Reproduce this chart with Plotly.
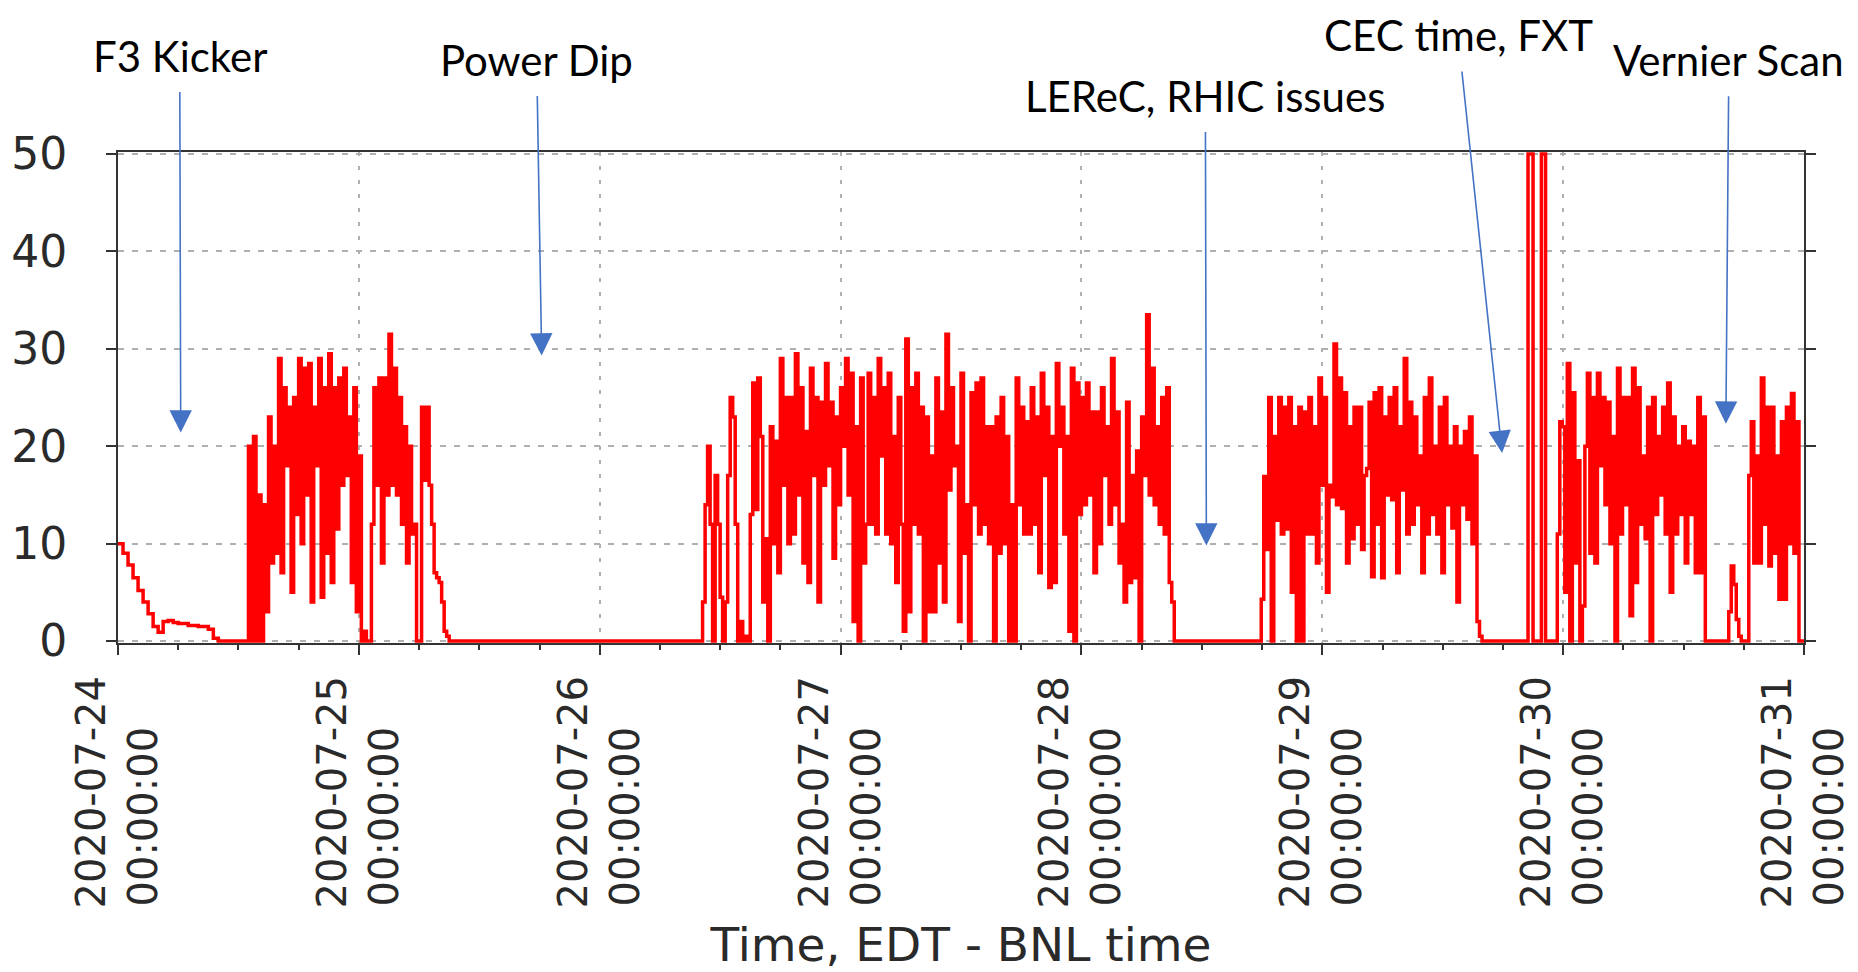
import pandas as pd
import plotly.graph_objects as go

# ---------------- data ----------------
day_ticks = ["2020-07-24", "2020-07-25", "2020-07-26", "2020-07-27",
             "2020-07-28", "2020-07-29", "2020-07-30", "2020-07-31"]

decay_start = "2020-07-24 00:00"
decay_step_min = 30
decay_vals = [10, 9, 7.8, 6.5, 5.2, 4, 2.8, 1.5, 0.9, 2.0, 2.1, 1.9, 1.8, 1.8,
              1.6, 1.6, 1.5, 1.5, 1.2, 0.3, 0]

block_a_start = "2020-07-24 13:00"
block_a_vals = [20, 0, 21, 0, 15, 0, 14, 3, 23, 8, 20, 9, 29, 7, 26, 18,
                24, 5, 25, 13, 29, 10, 28, 15, 28.5, 4, 24, 18, 29, 4.5, 26, 9,
                29.5, 6, 26, 11.5, 27, 16, 28, 17, 23, 6, 26, 3, 19, 0, 1, 0,
                0, 12, 26, 16, 27, 8, 27, 15, 31.5, 16, 28, 15, 25, 12, 22, 8,
                20, 11, 12, 0, 0, 24, 16.5, 24, 16, 12, 7, 6.5, 6, 4, 1, 0.5, 0]

block_b_start = "2020-07-26 10:15"
block_b_vals = [4, 14, 20, 12, 0, 17, 12, 4.5, 0, 4, 17, 25, 23, 12, 0, 2,
                0, 0.5, 0, 13, 26.5, 13.5, 27, 21, 4, 10.5, 0, 22, 10, 20.5,
                7, 29, 16, 25, 10, 25, 11, 29.5, 15, 26, 8, 21.5, 6, 28, 17, 25,
                4, 24.5, 16, 28.5, 18, 24.5, 8.5, 23, 14, 26, 20, 29, 15, 27.5,
                2, 22, 0, 27, 8, 12, 27.5, 12, 25, 11, 29, 19, 26, 11, 27.5, 10,
                21, 6, 25, 12, 1, 31, 3, 26, 12, 27.5, 11, 24, 0, 23, 3, 19,
                3, 27, 8, 23.5, 4, 31.5, 15.5, 26, 18, 20, 2, 27.5, 9, 14, 0, 25.5,
                14, 26.5, 11, 27, 12, 22, 10, 22, 0, 23, 9, 25, 10, 21, 0, 14,
                0, 27, 14, 24, 11, 22.5, 11, 26, 12, 23, 7, 27.5, 17, 24, 5.5, 21,
                6, 28.5, 20, 24, 11, 21, 1, 28, 0, 26.5, 13, 25, 14, 26.5, 15, 23.5,
                7, 23.5, 10, 26, 17, 22, 12, 29, 14, 23.5, 8, 12, 4, 24.5, 6, 17,
                6.5, 19.5, 0, 23, 17, 33.5, 15, 28, 14, 22, 12, 25, 11, 26, 6, 4, 0]

block_c_start = "2020-07-28 17:55"
block_c_vals = [4.3, 16.9, 9.4, 25, 0, 21, 12.4, 25, 11, 24, 11.5, 25, 5, 22,
                0, 24, 0, 23.5, 11, 25, 11, 22, 8, 27, 16, 25, 5, 16, 14.8, 30.5,
                14, 27, 13.6, 25.5, 8, 22, 10.5, 24, 12, 24, 9.4, 17, 17.7, 24.5,
                6.6, 25.5, 12, 26, 6.5, 23, 15, 25, 14.5, 26, 7, 22, 15.5, 29,
                11, 24.5, 12, 23, 14, 19, 7, 25, 11, 27, 13, 20, 11, 24, 7, 25,
                14, 20, 11.6, 22, 4, 20, 14, 21.5, 12.5, 23, 10, 19, 2, 0.5, 0]

spike_times = ["2020-07-29 20:30", "2020-07-29 21:00",
               "2020-07-29 21:50", "2020-07-29 22:15"]
spike_vals = [50, 0, 50, 0]

block_d_start = "2020-07-29 23:25"
block_d_vals = [11, 22.5, 22, 5, 28.5, 0, 25.5, 8, 18.5, 0, 3.6, 20, 27.5, 9,
                25, 8, 27.5, 18, 25, 14, 24.5, 10, 21, 0, 28, 11, 25, 14, 25, 2.6,
                28, 6, 26, 12, 19, 10.5, 24, 0, 25, 13, 21, 15, 24, 11, 26.5, 5,
                23, 11, 20, 13, 22, 8, 20.5, 13, 20, 7, 25, 7, 23, 0]

block_e_start = "2020-07-30 16:30"
block_e_vals = [3, 7.7, 5.8, 2.2, 0.5, 0, 0, 0, 17, 22.5, 8, 19, 8, 27, 12, 24,
                7.7, 24, 9, 19, 4.3, 22.5, 4.3, 24, 10, 25.4, 9, 22.5, 0]

step_min = 15

annot_texts = ["F3 Kicker", "Power Dip", "LEReC, RHIC issues", "CEC time, FXT", "Vernier Scan"]
annot_tip_x = ["2020-07-24 06:15", "2020-07-25 18:13", "2020-07-28 12:27",
               "2020-07-29 17:55", "2020-07-30 16:13"]
annot_tip_y = [21.4, 29.3, 9.8, 19.3, 22.3]
annot_ax = [-1, -5, -1, -44, 3]
annot_ay = [-377, -296, -450, -418, -364]


# ---------------- build series ----------------
def seg(start, vals, minutes):
    t = pd.date_range(start=start, periods=len(vals), freq=f"{minutes}min")
    return list(t), list(vals)

xs, ys = [], []
for s, v, m in [(decay_start, decay_vals, decay_step_min),
                (block_a_start, block_a_vals, step_min),
                (block_b_start, block_b_vals, step_min),
                (block_c_start, block_c_vals, step_min)]:
    t, y = seg(s, v, m)
    xs += t
    ys += y
xs += list(pd.to_datetime(spike_times))
ys += spike_vals
for s, v in [(block_d_start, block_d_vals), (block_e_start, block_e_vals)]:
    t, y = seg(s, v, step_min)
    xs += t
    ys += y
xs.append(pd.Timestamp("2020-07-31 00:00"))
ys.append(0)

fig = go.Figure()
fig.add_trace(go.Scatter(x=xs, y=ys, mode="lines",
                         line=dict(color="#ff0000", width=3.5, shape="hv"),
                         showlegend=False, hoverinfo="skip"))

nb = "\u00a0"
tick_text = [f"{d}<br>00:00:00{nb*4}" for d in day_ticks]
minor_vals = list(pd.date_range("2020-07-24", "2020-07-31", freq="6h"))

fig.update_xaxes(
    range=["2020-07-24 00:00", "2020-07-31 00:00"],
    tickmode="array", tickvals=day_ticks, ticktext=tick_text,
    tickangle=-90,
    tickfont=dict(family="DejaVu Sans", size=40, color="#2a2a2a"),
    ticks="outside", ticklen=10, tickwidth=2, tickcolor="#333",
    ticklabelstandoff=5,
    minor=dict(tickmode="array", tickvals=minor_vals, ticks="outside",
               ticklen=5, tickwidth=2, tickcolor="#333", showgrid=False),
    showline=True, linecolor="#333", linewidth=2, mirror=True,
    showgrid=True, gridcolor="#b0b0b0", gridwidth=2, griddash="4px,10px",
    layer="below traces",
    title=dict(text="Time, EDT - BNL time",
               font=dict(family="DejaVu Sans", size=47, color="#2a2a2a"),
               standoff=36),
    automargin=False,
)
fig.update_yaxes(
    range=[-0.2, 50.2],
    tickvals=[0, 10, 20, 30, 40, 50],
    tickfont=dict(family="DejaVu Sans", size=44, color="#2a2a2a"),
    ticks="outside", ticklen=10, tickwidth=2, tickcolor="#333",
    ticklabelstandoff=30,
    showline=True, linecolor="#333", linewidth=2, mirror="ticks",
    showgrid=True, gridcolor="#b0b0b0", gridwidth=2, griddash="6px,8px",
    zeroline=False, layer="below traces",
    automargin=False,
)

for txt, tx, ty, ax, ay in zip(annot_texts, annot_tip_x, annot_tip_y, annot_ax, annot_ay):
    fig.add_annotation(x=tx, y=ty, xref="x", yref="y", text=txt,
                       showarrow=True, ax=ax, ay=ay, axref="pixel", ayref="pixel",
                       arrowhead=2, arrowsize=2.8, arrowwidth=1.6, arrowcolor="#4472C4",
                       startstandoff=10,
                       font=dict(family="Lato", size=42, color="#000000"))

# the page body has an 8px default margin, so the figure is drawn 8px smaller
fig.update_layout(
    width=1850, height=964,
    margin=dict(l=110, r=54, t=144, b=329),
    paper_bgcolor="white", plot_bgcolor="white",
)

fig.write_html("out.html")
